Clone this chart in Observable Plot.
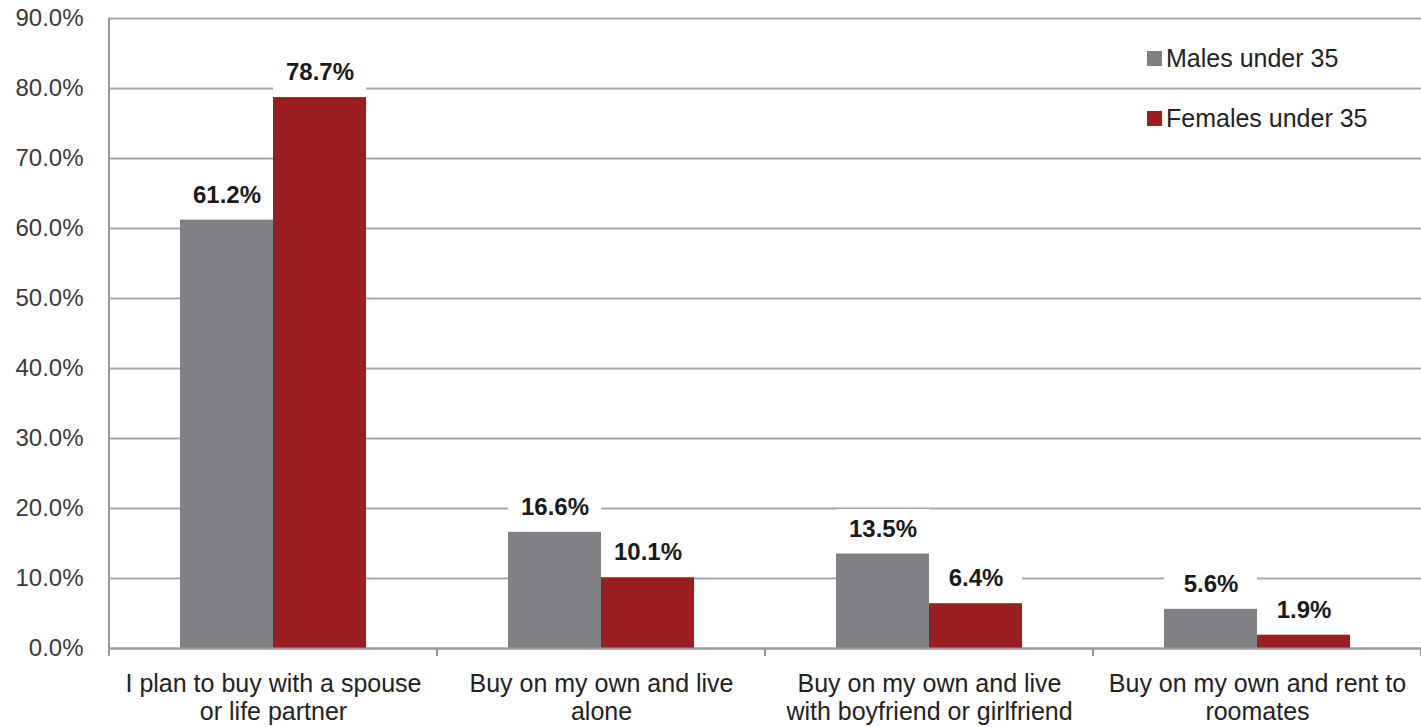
<!DOCTYPE html>
<html>
<head>
<meta charset="utf-8">
<script src="https://cdn.jsdelivr.net/npm/d3@7"></script>
<script src="https://cdn.jsdelivr.net/npm/@observablehq/plot@0.6"></script>
<style>
  html, body { margin: 0; padding: 0; background: #fff; }
  #wrap { position: relative; width: 1421px; height: 727px; font-family: "Liberation Sans", Arial, sans-serif; }
  #legend { position: absolute; left: 1147px; top: 41px; font-size: 25px; color: #222; line-height: 34px; }
  #legend .item { display: flex; align-items: center; height: 34px; margin-bottom: 26px; }
  #legend .sw { width: 15px; height: 15px; margin-right: 4px; }
</style>
</head>
<body>
<div id="wrap"><div id="legend"></div></div>
<script>
const categories = [
  "I plan to buy with a spouse\nor life partner",
  "Buy on my own and live\nalone",
  "Buy on my own and live\nwith boyfriend or girlfriend",
  "Buy on my own and rent to\nroomates"
];
const series = ["Males under 35", "Females under 35"];
const males = [61.2, 16.6, 13.5, 5.6];
const females = [78.7, 10.1, 6.4, 1.9];
const yTicks = [0, 10, 20, 30, 40, 50, 60, 70, 80, 90];
const colors = ["#7f8184", "#9c1d20"];

const data = [];
categories.forEach((c, i) => {
  data.push({category: c, series: series[0], value: males[i]});
  data.push({category: c, series: series[1], value: females[i]});
});
const fmt = d => d.toFixed(1) + "%";

const chart = Plot.plot({
  width: 1421,
  height: 727,
  marginLeft: 109,
  marginRight: 0,
  marginTop: 18,
  marginBottom: 79,
  style: {fontFamily: "'Liberation Sans', Arial, sans-serif", background: "white", overflow: "visible"},
  fx: {domain: categories, padding: 0},
  x: {domain: series, paddingInner: 0, paddingOuter: 0.76, axis: null},
  y: {domain: [0, 90], axis: null},
  color: {domain: series, range: colors},
  marks: [
    Plot.gridY(yTicks, {stroke: "#a5a5a5", strokeOpacity: 1, strokeWidth: 2}),
    Plot.tickY(data, {fx: "category", x: "series", y: "value", stroke: "white", strokeWidth: 40, dy: -25}),
    Plot.barY(data, {fx: "category", x: "series", y: "value", fill: "series"}),
    Plot.text(data, {fx: "category", x: "series", y: "value", text: d => fmt(d.value), dy: -25,
      fontSize: 24, fontWeight: "bold", fill: "#1a1a1a"}),
    Plot.ruleY([0], {stroke: "#999", strokeWidth: 2}),
    Plot.axisY(yTicks, {tickSize: 0, tickPadding: 26, tickFormat: fmt, fontSize: 24, fill: "#3a3a3a", label: null}),
    Plot.axisFx({anchor: "bottom", tickSize: 0, tickPadding: 24, fontSize: 25, lineHeight: 1.1, fill: "#222", label: null})
  ]
});

document.getElementById("wrap").prepend(chart);

// axis line and category boundary ticks, positioned through Plot's own scales
const fxs = chart.scale("fx");
const ys = chart.scale("y");
const bounds = categories.map(c => fxs.apply(c));
bounds.push(fxs.apply(categories[categories.length - 1]) + fxs.bandwidth);
const y0 = ys.apply(0), yTop = ys.apply(90);
const svg = d3.select(chart);
const g = svg.append("g").attr("stroke", "#999").attr("stroke-width", 2);
g.append("line").attr("x1", bounds[0]).attr("x2", bounds[0]).attr("y1", yTop).attr("y2", y0 + 8);
bounds.slice(1).forEach(b => {
  g.append("line").attr("x1", b).attr("x2", b).attr("y1", y0).attr("y2", y0 + 8);
});

// legend
const legend = d3.select("#legend");
series.forEach((s, i) => {
  const item = legend.append("div").attr("class", "item");
  item.append("div").attr("class", "sw").style("background", colors[i]);
  item.append("span").text(s);
});
</script>
</body>
</html>
